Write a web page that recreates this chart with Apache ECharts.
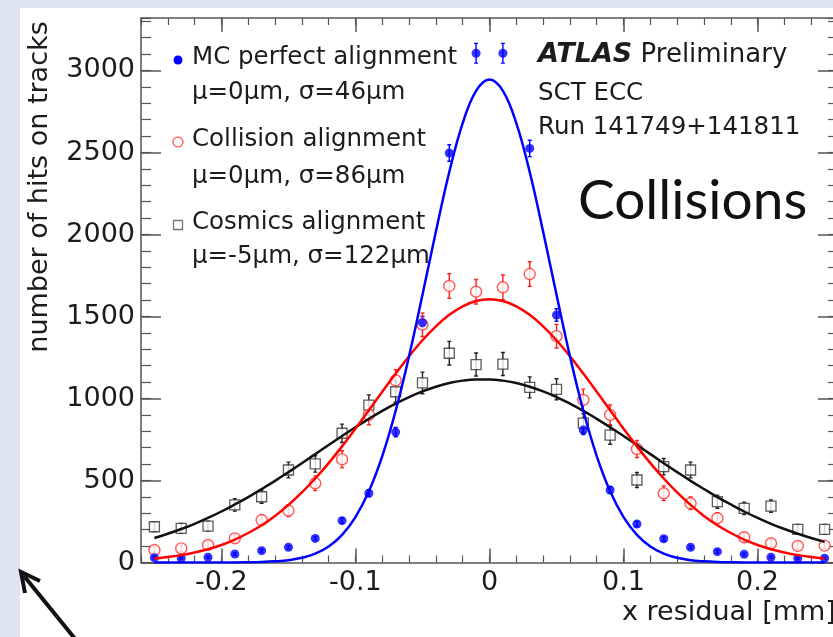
<!DOCTYPE html>
<html>
<head>
<meta charset="utf-8">
<script src="https://cdn.jsdelivr.net/npm/echarts@6/dist/echarts.min.js"></script>
<style>
  html, body { margin: 0; padding: 0; background: #ffffff; }
  #chart { width: 833px; height: 637px; }
</style>
</head>
<body>
<div id="chart"></div>
<script>
// bin centres (x residual, mm)
const binX = [-0.25, -0.23, -0.21, -0.19, -0.17, -0.15, -0.13, -0.11, -0.09, -0.07, -0.05, -0.03, -0.01,
  0.01, 0.03, 0.05, 0.07, 0.09, 0.11, 0.13, 0.15, 0.17, 0.19, 0.21, 0.23, 0.25];

// MC perfect alignment
const mcVals = [29, 26, 32, 52, 72, 93, 147, 255, 422, 795, 1462, 2497, 3105,
  3105, 2525, 1509, 808, 442, 235, 145, 93, 66, 50, 32, 26, 26];
const mcErr = [6, 6, 7, 8, 9, 10, 12, 16, 20, 28, 38, 50, 60,
  60, 50, 38, 28, 20, 16, 12, 10, 9, 8, 7, 6, 6];

// Collision alignment
const collVals = [76, 86, 107, 147, 259, 316, 483, 629, 900, 1110, 1450, 1686, 1651,
  1678, 1759, 1380, 991, 900, 692, 422, 361, 270, 154, 117, 101, 103];
const collErr = [18, 20, 22, 26, 32, 36, 45, 52, 60, 66, 72, 75, 75,
  75, 75, 72, 66, 60, 52, 45, 38, 32, 26, 22, 20, 20];

// Cosmics alignment
const cosVals = [218, 208, 222, 351, 401, 564, 601, 788, 960, 1041, 1095, 1276, 1207,
  1210, 1068, 1056, 850, 777, 503, 584, 564, 371, 330, 344, 202, 202];
const cosErr = [30, 30, 30, 38, 40, 48, 50, 56, 62, 64, 66, 72, 70,
  70, 64, 64, 58, 56, 46, 50, 48, 40, 38, 38, 30, 30];

// fitted curves, read every 0.01 mm
const fitX = [-0.25, -0.24, -0.23, -0.22, -0.21, -0.2, -0.19, -0.18, -0.17, -0.16, -0.15, -0.14, -0.13,
  -0.12, -0.11, -0.1, -0.09, -0.08, -0.07, -0.06, -0.05, -0.04, -0.03, -0.02, -0.01, 0,
  0.01, 0.02, 0.03, 0.04, 0.05, 0.06, 0.07, 0.08, 0.09, 0.1, 0.11, 0.12, 0.13,
  0.14, 0.15, 0.16, 0.17, 0.18, 0.19, 0.2, 0.21, 0.22, 0.23, 0.24, 0.25];
const mcFit = [0, 0, 0, 0, 0, 0, 0, 1, 3, 7, 14, 29, 54, 98, 169, 277, 434, 649, 925, 1258, 1632, 2018,
  2381, 2679, 2876, 2945, 2876, 2679, 2381, 2018, 1632, 1258, 925, 649, 434, 277, 169, 98, 54, 29, 14,
  7, 3, 1, 0, 0, 0, 0, 0, 0, 0];
const collFit = [23, 33, 45, 61, 81, 107, 140, 180, 227, 284, 351, 427, 512, 606, 708, 816, 928, 1041,
  1152, 1258, 1355, 1440, 1510, 1562, 1594, 1605, 1594, 1562, 1510, 1440, 1355, 1258, 1152, 1041, 928,
  816, 708, 606, 512, 427, 351, 284, 227, 180, 140, 107, 81, 61, 45, 33, 23];
const cosFit = [149, 175, 204, 236, 272, 311, 354, 399, 448, 498, 551, 605, 661, 716, 771, 825, 876, 925,
  969, 1009, 1043, 1072, 1094, 1109, 1116, 1116, 1109, 1094, 1072, 1043, 1009, 969, 925, 876, 825, 771,
  716, 661, 605, 551, 498, 448, 399, 354, 311, 272, 236, 204, 175, 149, 126];

// ticks
const xMajor = [-0.2, -0.1, 0, 0.1, 0.2];
const yMajor = [0, 500, 1000, 1500, 2000, 2500, 3000];

const FONT = "DejaVu Sans";
const TXT = "#1c1c1c";
const FRAME = "#555555";

function pairs(xs, ys) {
  return xs.map((x, i) => [x, ys[i]]);
}
function triples(xs, ys, es) {
  return xs.map((x, i) => [x, ys[i], es[i]]);
}

function errorBars(color) {
  return function (params, api) {
    const x = api.value(0);
    const y = api.value(1);
    const e = api.value(2);
    const top = api.coord([x, y + e]);
    const bot = api.coord([x, y - e]);
    const st = { stroke: color, lineWidth: 1.4 };
    return {
      type: "group",
      children: [
        { type: "line", shape: { x1: top[0], y1: top[1], x2: bot[0], y2: bot[1] }, style: st },
        { type: "line", shape: { x1: top[0] - 2, y1: top[1], x2: top[0] + 2, y2: top[1] }, style: st },
        { type: "line", shape: { x1: bot[0] - 2, y1: bot[1], x2: bot[0] + 2, y2: bot[1] }, style: st }
      ]
    };
  };
}

function xAxisDef(pos, major) {
  return {
    type: "value",
    position: pos,
    min: -0.26,
    max: 0.26,
    interval: major ? undefined : 0.02,
    axisLine: { show: major, onZero: false, lineStyle: { color: FRAME, width: 1.5 } },
    axisTick: major
      ? { show: true, inside: true, length: 14, customValues: xMajor, lineStyle: { color: FRAME, width: 1.5 } }
      : { show: true, inside: true, length: 7, lineStyle: { color: FRAME, width: 1.2 } },
    axisLabel: major && pos === "bottom"
      ? { show: true, customValues: xMajor, margin: 7, fontFamily: FONT, fontSize: 27, color: TXT,
          formatter: (v) => String(v) }
      : { show: false },
    splitLine: { show: false }
  };
}

function yAxisDef(pos, major) {
  return {
    type: "value",
    position: pos,
    min: 0,
    max: 3320,
    interval: major ? undefined : 100,
    axisLine: { show: major, onZero: false, lineStyle: { color: FRAME, width: 1.5 } },
    axisTick: major
      ? { show: true, inside: true, length: 20, customValues: yMajor, lineStyle: { color: FRAME, width: 1.5 } }
      : { show: true, inside: true, length: 10, lineStyle: { color: FRAME, width: 1.2 } },
    axisLabel: major && pos === "left"
      ? { show: true, customValues: yMajor, margin: 6, fontFamily: FONT, fontSize: 27, color: TXT,
          formatter: (v) => String(v) }
      : { show: false },
    splitLine: { show: false }
  };
}

const chart = echarts.init(document.getElementById("chart"), null, { renderer: "canvas" });

const option = {
  animation: false,
  backgroundColor: "#ffffff",
  grid: { left: 141, top: 18, width: 697, height: 544.5, outerBoundsMode: "none", containLabel: false },
  xAxis: [xAxisDef("bottom", true), xAxisDef("bottom", false), xAxisDef("top", true), xAxisDef("top", false)],
  yAxis: [yAxisDef("left", true), yAxisDef("left", false), yAxisDef("right", true), yAxisDef("right", false)],
  graphic: [
    // slide background strips
    { type: "rect", z: -10, shape: { x: 0, y: 0, width: 20, height: 637 }, style: { fill: "#dee5f0" } },
    { type: "rect", z: -10, shape: { x: 0, y: 0, width: 833, height: 8 }, style: { fill: "#dee5f0" } },
    // arrow
    { type: "line", shape: { x1: 76, y1: 640, x2: 24, y2: 576 }, style: { stroke: "#111", lineWidth: 4 } },
    { type: "polyline", shape: { points: [[40, 581], [21, 572], [25, 593]] }, style: { stroke: "#111", lineWidth: 4, fill: null } },
    // axis titles
    { type: "text", x: 40, y: 187, rotation: Math.PI / 2,
      style: { text: "number of hits on tracks", fontFamily: FONT, fontSize: 27, fill: TXT, align: "center", verticalAlign: "middle" } },
    { type: "text", x: 622, y: 613,
      style: { text: "x residual [mm]", fontFamily: FONT, fontSize: 27, fill: TXT, align: "left", verticalAlign: "middle" } },
    // legend
    { type: "circle", shape: { cx: 178, cy: 60, r: 4.5 }, style: { fill: "#0000ff" } },
    { type: "circle", shape: { cx: 178, cy: 142, r: 5 }, style: { fill: "#fff", stroke: "#ff7070", lineWidth: 1.5 } },
    { type: "rect", shape: { x: 173.5, y: 220.5, width: 9, height: 9 }, style: { fill: "#fff", stroke: "#777", lineWidth: 1.3 } },
    { type: "text", x: 192, y: 58, style: { text: "MC perfect alignment", fontFamily: FONT, fontSize: 24.5, fill: TXT, verticalAlign: "middle" } },
    { type: "text", x: 192, y: 93, style: { text: "\u03bc=0\u03bcm, \u03c3=46\u03bcm", fontFamily: FONT, fontSize: 24.5, fill: TXT, verticalAlign: "middle" } },
    { type: "text", x: 192, y: 140, style: { text: "Collision alignment", fontFamily: FONT, fontSize: 24.5, fill: TXT, verticalAlign: "middle" } },
    { type: "text", x: 192, y: 177, style: { text: "\u03bc=0\u03bcm, \u03c3=86\u03bcm", fontFamily: FONT, fontSize: 24.5, fill: TXT, verticalAlign: "middle" } },
    { type: "text", x: 192, y: 223, style: { text: "Cosmics alignment", fontFamily: FONT, fontSize: 24.5, fill: TXT, verticalAlign: "middle" } },
    { type: "text", x: 192, y: 257, style: { text: "\u03bc=-5\u03bcm, \u03c3=122\u03bcm", fontFamily: FONT, fontSize: 24.5, fill: TXT, verticalAlign: "middle" } },
    // ATLAS label
    { type: "text", x: 538, y: 55,
      style: {
        text: "{a|ATLAS} Preliminary", fontFamily: FONT, fontSize: 26, fill: TXT, verticalAlign: "middle",
        rich: { a: { fontFamily: FONT, fontSize: 27, fontWeight: "bold", fontStyle: "italic", fill: TXT } }
      } },
    { type: "text", x: 538, y: 94, style: { text: "SCT ECC", fontFamily: FONT, fontSize: 24.5, fill: TXT, verticalAlign: "middle" } },
    { type: "text", x: 538, y: 128, style: { text: "Run 141749+141811", fontFamily: FONT, fontSize: 24.5, fill: TXT, verticalAlign: "middle" } },
    { type: "text", x: 578, y: 201, style: { text: "Collisions", fontFamily: "Lato", fontSize: 55, fill: "#111", verticalAlign: "middle" } }
  ],
  series: [
    { type: "custom", name: "mcErr", renderItem: errorBars("#0000ff"), encode: { x: 0, y: 1 }, data: triples(binX, mcVals, mcErr), clip: true },
    { type: "custom", name: "collErr", renderItem: errorBars("#ff2020"), encode: { x: 0, y: 1 }, data: triples(binX, collVals, collErr), clip: true },
    { type: "custom", name: "cosErr", renderItem: errorBars("#222"), encode: { x: 0, y: 1 }, data: triples(binX, cosVals, cosErr), clip: true },
    { type: "scatter", name: "Cosmics alignment", symbol: "rect", symbolSize: 10, data: pairs(binX, cosVals),
      itemStyle: { color: "#ffffff", borderColor: "#333", borderWidth: 1.3 } },
    { type: "scatter", name: "Collision alignment", symbol: "circle", symbolSize: 11, data: pairs(binX, collVals),
      itemStyle: { color: "#ffffff", borderColor: "#ff3030", borderWidth: 1.4 } },
    { type: "scatter", name: "MC perfect alignment", symbol: "circle", symbolSize: 9, data: pairs(binX, mcVals),
      itemStyle: { color: "#0000ff" } },
    { type: "line", name: "cosFit", data: pairs(fitX, cosFit), showSymbol: false, smooth: 0.4, lineStyle: { color: "#111", width: 2.5 } },
    { type: "line", name: "collFit", data: pairs(fitX, collFit), showSymbol: false, smooth: 0.4, lineStyle: { color: "#ff0000", width: 2.5 } },
    { type: "line", name: "mcFit", data: pairs(fitX, mcFit), showSymbol: false, smooth: 0.4, lineStyle: { color: "#0000ff", width: 2.5 } }
  ]
};

chart.setOption(option);
</script>
</body>
</html>
